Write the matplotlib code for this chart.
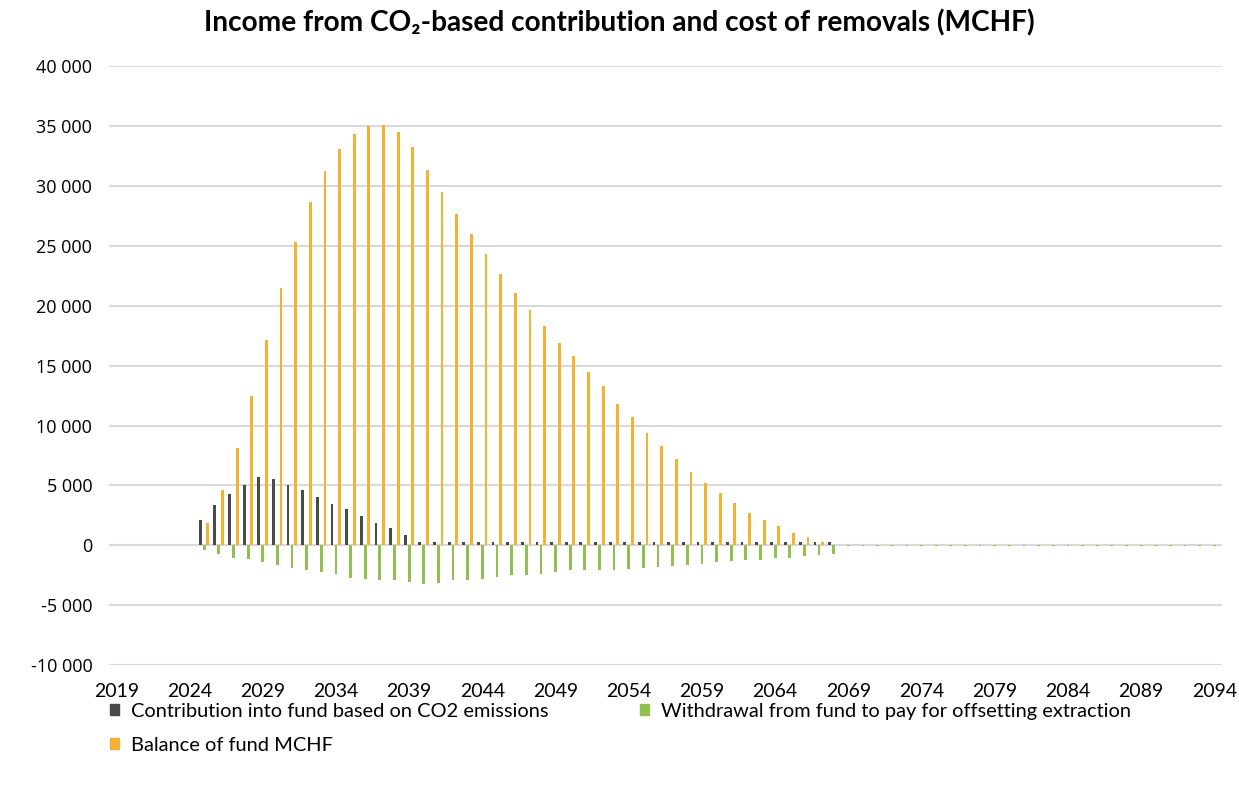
import numpy as np
import matplotlib
matplotlib.use('Agg')
import matplotlib.pyplot as plt
from matplotlib.ticker import FuncFormatter
from matplotlib.patches import Patch

years = list(range(2019, 2095))
start_year = 2025

# values in MCHF, starting at 2025
contribution = [2140, 3340, 4310, 5010, 5710, 5570, 5010, 4590, 4040, 3480,
                3010, 2450, 1860, 1450, 890] + [250] * 29
withdrawal = [-420, -700, -1030, -1170, -1390, -1670, -1870, -2090, -2230, -2370,
              -2700, -2790, -2920, -2870, -3060, -3200, -3120, -2920, -2870, -2790,
              -2640, -2500, -2500, -2370, -2230, -2090, -2090, -2090, -2030, -1950,
              -1870, -1810, -1750, -1670, -1530, -1390, -1310, -1250, -1200, -1060,
              -1030, -920, -840, -700] + [-80] * 26
balance = [1860, 4590, 8130, 12440, 17120, 21520, 25330, 28620, 31230, 33120,
           34380, 35020, 35070, 34520, 33260, 31320, 29500, 27640, 25970, 24300,
           22690, 21100, 19680, 18320, 16930, 15810, 14470, 13280, 11830, 10720,
           9410, 8270, 7180, 6120, 5230, 4400, 3560, 2700, 2140, 1590,
           1030, 700, 250, 0]

labels = ['Contribution into fund based on CO2 emissions',
          'Withdrawal from fund to pay for offsetting extraction',
          'Balance of fund MCHF']
colors = ['#4a4a4a', '#92c050', '#f2b233']

plt.rcParams['font.family'] = ['Lato', 'DejaVu Sans']

fig = plt.figure(figsize=(12.39, 7.88), dpi=100)
ax = fig.add_axes([0.088, 0.156, 0.898, 0.76])

def xs(series, off):
    return np.arange(start_year, start_year + len(series)) + off

w = 0.19
ax.bar(xs(contribution, -0.27), contribution, width=w, color=colors[0], zorder=3)
ax.bar(xs(withdrawal, 0.0), withdrawal, width=w, color=colors[1], zorder=3)
ax.bar(xs(balance, 0.25), balance, width=w, color=colors[2], zorder=3)

ax.set_xlim(years[0] - 0.5, years[-1] + 0.5)
ax.set_ylim(-10000, 40000)
ax.set_yticks(range(-10000, 40001, 5000))
ax.set_xticks(years[::5])
ax.yaxis.set_major_formatter(FuncFormatter(lambda v, p: f'{v:,.0f}'.replace(',', ' ')))
ax.grid(axis='y', color='#d9d9d9', lw=1.5, zorder=0)
for s in ax.spines.values():
    s.set_visible(False)
ax.tick_params(length=0)
ax.tick_params(axis='y', labelsize=13, pad=12)
ax.tick_params(axis='x', labelsize=14, pad=13)
for t in ax.get_yticklabels():
    t.set_family('Open Sans')

fig.suptitle('Income from CO\u2082-based contribution and cost of removals (MCHF)',
             x=0.5, y=0.988, fontsize=20.2, fontweight='bold')

handles = [Patch(color=c) for c in colors]
order = [0, 2, 1]
fig.legend([handles[i] for i in order], [labels[i] for i in order],
           loc='upper left', bbox_to_anchor=(0.074, 0.131), ncol=2,
           frameon=False, fontsize=14.4, handlelength=0.45, handleheight=0.45,
           handletextpad=0.6, columnspacing=4.6, labelspacing=0.85)

fig.savefig('out.png', dpi=100)
